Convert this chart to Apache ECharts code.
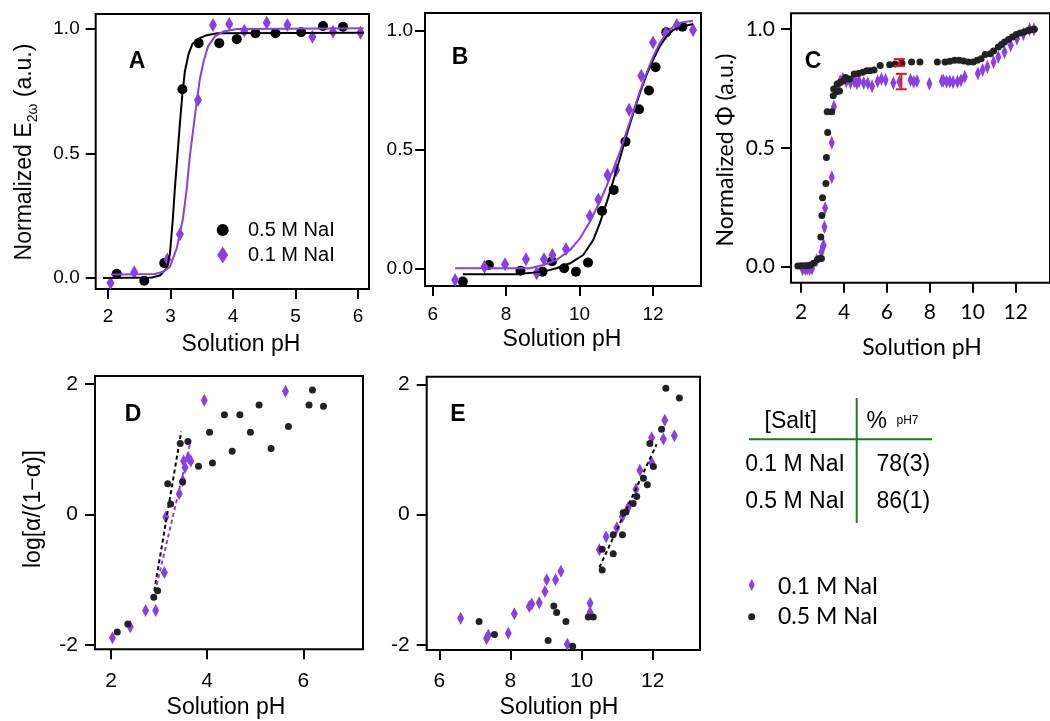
<!DOCTYPE html>
<html>
<head>
<meta charset="utf-8">
<script src="https://cdn.jsdelivr.net/npm/echarts@6/dist/echarts.min.js"></script>
<style>
  html, body { margin: 0; padding: 0; background: #fff; }
  #chart { width: 1050px; height: 721px; }
</style>
</head>
<body>
<div id="chart"></div>
<script>
// ---- Panel A: E(2w) vs pH, acid side ----
const a05 = [[2.14,0.017],[2.58,-0.011],[2.90,0.06],[3.19,0.758],[3.45,0.943],[3.78,0.943],[4.06,0.959],[4.36,0.983],[4.68,0.983],[5.09,0.987],[5.44,1.012],[5.76,1.009]];
const a01 = [[2.04,-0.02],[2.42,0.023],[2.95,0.074],[3.15,0.176],[3.44,0.715],[3.68,1.016],[3.94,1.02],[4.18,0.993],[4.54,1.025],[4.87,1.016],[5.27,0.969],[5.60,0.989],[6.04,0.985]];
const fitA05 = [[1.92,0.0],[2.70,0.002],[2.83,0.01],[2.94,0.04],[2.99,0.095],[3.035,0.23],[3.07,0.36],[3.11,0.49],[3.15,0.62],[3.19,0.74],[3.23,0.83],[3.29,0.90],[3.35,0.94],[3.44,0.96],[3.58,0.975],[3.75,0.983],[6.09,0.985]];
const fitA01 = [[2.05,0.014],[2.75,0.016],[2.88,0.025],[2.99,0.045],[3.10,0.12],[3.20,0.24],[3.26,0.36],[3.31,0.49],[3.37,0.61],[3.42,0.71],[3.47,0.80],[3.53,0.87],[3.60,0.93],[3.71,0.97],[3.85,0.99],[4.06,1.0],[6.09,1.003]];

// ---- Panel B: E(2w) vs pH, base side ----
const b05 = [[6.82,-0.056],[7.53,0.014],[8.39,-0.01],[8.99,-0.014],[9.25,0.03],[9.58,0.0],[9.90,-0.014],[10.23,0.024],[10.61,0.241],[10.93,0.33],[11.25,0.533],[11.62,0.669],[11.89,0.748],[12.07,0.846],[12.36,0.993],[12.80,1.017]];
const b01 = [[6.61,-0.049],[7.41,0.007],[7.97,0.017],[8.54,0.038],[8.83,-0.021],[9.03,0.038],[9.26,0.056],[9.63,0.08],[10.28,0.22],[10.51,0.29],[10.76,0.393],[11.0,0.414],[11.35,0.667],[11.68,0.81],[12.0,0.95],[12.35,0.989],[12.65,1.024],[13.09,1.003]];
const fitB05 = [[6.82,-0.025],[8.28,-0.025],[9.01,-0.014],[9.37,0.0],[9.74,0.021],[10.10,0.056],[10.37,0.119],[10.55,0.189],[10.73,0.273],[10.91,0.364],[11.10,0.463],[11.28,0.561],[11.46,0.652],[11.64,0.736],[11.82,0.813],[12.00,0.876],[12.18,0.933],[12.36,0.975],[12.55,1.003],[12.77,1.017],[13.09,1.028]];
const fitB01 = [[6.61,0.0],[8.65,0.0],[9.01,0.014],[9.37,0.035],[9.74,0.077],[10.01,0.126],[10.28,0.196],[10.55,0.280],[10.73,0.344],[10.91,0.414],[11.10,0.491],[11.28,0.575],[11.46,0.659],[11.64,0.743],[11.82,0.820],[12.00,0.890],[12.18,0.947],[12.36,0.989],[12.55,1.017],[12.77,1.034],[13.09,1.042]];

// ---- Panel C: normalized phase vs pH ----
const c05 = [[1.85,0.003],[2.0,0.004],[2.15,0.004],[2.29,0.004],[2.44,0.007],[2.58,0.014],[2.77,0.03],[2.87,0.035],[2.95,0.035],[2.92,0.125],[2.97,0.216],[3.0,0.29],[3.16,0.35],[3.18,0.46],[3.24,0.565],[3.22,0.652],[3.43,0.652],[3.50,0.72],[3.52,0.748],[3.65,0.737],[3.68,0.769],[3.79,0.74],[3.82,0.776],[3.97,0.783],[4.08,0.797],[4.26,0.79],[4.48,0.811],[4.67,0.814],[4.87,0.819],[5.06,0.825],[5.21,0.825],[5.40,0.828],[5.69,0.847],[6.13,0.85],[6.38,0.854],[6.70,0.857],[7.15,0.862],[7.54,0.862],[8.35,0.862],[8.71,0.862],[8.93,0.865],[9.15,0.869],[9.37,0.869],[9.58,0.866],[9.80,0.862],[10.02,0.862],[10.21,0.869],[10.39,0.876],[10.58,0.893],[10.82,0.897],[10.97,0.908],[11.19,0.925],[11.34,0.936],[11.48,0.946],[11.67,0.957],[11.85,0.967],[12.03,0.978],[12.21,0.984],[12.40,0.988],[12.57,0.995],[12.72,0.998],[12.87,1.0]];
const c01 = [[2.07,-0.011],[2.20,-0.01],[2.29,-0.008],[2.40,-0.01],[2.51,-0.008],[2.73,0.027],[2.95,0.062],[3.02,0.084],[3.05,0.09],[3.09,0.167],[3.12,0.247],[3.43,0.377],[3.43,0.522],[3.53,0.674],[3.68,0.758],[3.82,0.781],[3.95,0.79],[4.11,0.781],[4.30,0.776],[4.48,0.781],[4.60,0.772],[4.70,0.781],[4.92,0.774],[5.11,0.772],[5.31,0.76],[5.57,0.781],[5.75,0.79],[5.94,0.786],[6.30,0.774],[6.58,0.779],[7.10,0.786],[7.25,0.779],[7.40,0.782],[7.98,0.77],[8.56,0.782],[8.63,0.784],[8.78,0.78],[8.93,0.78],[9.08,0.778],[9.29,0.779],[9.45,0.785],[9.63,0.8],[10.24,0.814],[10.46,0.828],[10.68,0.842],[10.97,0.862],[11.19,0.883],[11.48,0.904],[11.77,0.932],[12.06,0.96],[12.36,0.98],[12.65,1.0],[12.85,1.0]];
// error bars at pH 7: [pH, low, high]
const errC = [[6.58,0.845,0.874],[6.67,0.747,0.812]];

// ---- Panel D: log[a/(1-a)] vs pH, acid side ----
const d05 = [[2.13,-1.80],[2.35,-1.68],[2.89,-1.27],[2.97,-1.17],[3.18,0.47],[3.24,0.16],[3.44,1.09],[3.49,0.50],[3.60,1.12],[3.82,0.74],[4.05,1.26],[4.11,0.79],[4.36,1.53],[4.52,0.97],[4.68,1.53],[4.90,1.26],[5.08,1.68],[5.33,1.01],[5.69,1.35],[6.12,1.68],[6.19,1.91],[6.42,1.66]];
const d01 = [[2.03,-1.89],[2.40,-1.72],[2.72,-1.47],[2.93,-1.47],[3.11,-0.89],[3.14,-0.04],[3.42,0.32],[3.49,0.52],[3.51,0.82],[3.54,0.72],[3.61,0.87],[3.66,0.82],[3.94,1.75],[5.63,1.89]];
const lineD05 = [[2.90,-1.17],[3.46,1.27]];
const lineD01 = [[2.95,-1.08],[3.65,1.10]];

// ---- Panel E: log[a/(1-a)] vs pH, base side ----
const e05 = [[7.12,-1.64],[7.55,-1.84],[9.06,-1.93],[9.22,-1.40],[9.30,-1.50],[9.56,-1.64],[9.75,-2.02],[10.19,-1.57],[10.33,-1.57],[10.58,-0.85],[10.58,-0.53],[10.89,-0.60],[10.89,-0.31],[11.15,-0.31],[11.17,0.03],[11.25,0.04],[11.45,0.17],[11.55,0.28],[11.74,0.56],[11.85,0.46],[11.92,1.09],[12.02,0.74],[12.25,1.31],[12.37,1.94],[12.75,1.79]];
const e01 = [[6.60,-1.59],[7.33,-1.90],[7.38,-1.85],[7.94,-1.82],[8.11,-1.52],[8.53,-1.41],[8.60,-1.37],[8.81,-1.35],[8.97,-1.18],[9.02,-1.00],[9.27,-1.00],[9.42,-0.87],[9.60,-1.99],[10.24,-1.36],[10.24,-1.50],[10.50,-0.54],[10.69,-0.34],[10.99,-0.20],[11.15,-0.03],[11.31,0.11],[11.53,0.39],[11.64,0.68],[11.97,1.18],[11.97,0.80],[12.30,1.16],[12.34,1.45],[12.61,1.21]];
const lineE05 = [[10.50,-0.81],[12.11,1.08]];

// ---- tick values ----
const xTicksA = [2,3,4,5,6],        yTicksA = [0,0.5,1];
const xTicksB = [6,8,10,12],        yTicksB = [0,0.5,1];
const xTicksC = [2,4,6,8,10,12],    yTicksC = [0,0.5,1];
const xTicksD = [2,4,6],            yTicksD = [-2,0,2];
const xTicksE = [6,8,10,12],        yTicksE = [-2,0,2];

// ---- table ----
const tableHead = ['[Salt]', '%'];
const tableRows = [['0.1 M NaI','78(3)'],['0.5 M NaI','86(1)']];
const seriesNames = ['0.5 M NaI','0.1 M NaI'];

const SANS = "'Liberation Sans', Arial, Helvetica, sans-serif";
const ROUND = "Lato, 'Open Sans', 'DejaVu Sans', sans-serif";
const PURPLE = '#8a3fe4';
const DARK = '#222222';
const RED = '#e3131b';
const GREEN = '#1f7a1f';

const gridBoxes = [
  {left:95.7, top:14,   width:273.3, height:275},
  {left:425,  top:13,   width:276,   height:273},
  {left:791,  top:13.3, width:275.5, height:269.4},
  {left:95,   top:376,  width:268,   height:273.3},
  {left:426.7,top:376.7,width:273.3, height:273.3}
];

function xAxisFor(idx, min, max, ticks, font, size, margin) {
  return {
    type:'value', gridIndex:idx, min, max,
    axisLine:{show:false, onZero:false},
    axisTick:{show:true, customValues:ticks, length:10, lineStyle:{color:'#000', width:2}},
    axisLabel:{show:true, customValues:ticks, margin, fontFamily:font, fontSize:size, color:'#000',
               formatter:v => String(v)},
    splitLine:{show:false}
  };
}
function yAxisFor(idx, min, max, ticks, font, size, margin, digits) {
  return {
    type:'value', gridIndex:idx, min, max,
    axisLine:{show:false, onZero:false},
    axisTick:{show:true, customValues:ticks, length:10, lineStyle:{color:'#000', width:2}},
    axisLabel:{show:true, customValues:ticks, margin, fontFamily:font, fontSize:size, color:'#000',
               formatter:v => digits ? Number(v).toFixed(digits) : String(v)},
    splitLine:{show:false}
  };
}

function scatter(idx, name, data, symbol, size, color, z) {
  return {type:'scatter', name, xAxisIndex:idx, yAxisIndex:idx, data,
          symbol, symbolSize:size, itemStyle:{color, opacity:1}, z:z||2};
}
function fitLine(idx, name, data, color, dashed) {
  return {type:'line', name, xAxisIndex:idx, yAxisIndex:idx, data,
          symbol:'none', smooth:false,
          lineStyle:{color, width:2, type: dashed ? [4,3] : 'solid', join:'round'}, z:3};
}

function txt(x, y, text, font, size, opts) {
  opts = opts || {};
  return {type:'text', x, y, rotation: opts.rot || 0, z:100,
    style:{text, fontFamily:font, fontSize:size, fontWeight:opts.weight || 'normal',
           fill:opts.color || '#000', align:opts.align || 'center', verticalAlign:'middle',
           textAlign:opts.align || 'center', textVerticalAlign:'middle',
           lineHeight:opts.lineHeight, rich:opts.rich}};
}
function diamond(cx, cy, w, h, color) {
  return {type:'polygon', z:100, shape:{points:[[cx,cy-h/2],[cx+w/2,cy],[cx,cy+h/2],[cx-w/2,cy]]}, style:{fill:color}};
}
function dot(cx, cy, r, color) {
  return {type:'circle', z:100, shape:{cx, cy, r}, style:{fill:color}};
}
function seg(x1, y1, x2, y2, color, w) {
  return {type:'line', z:100, shape:{x1,y1,x2,y2}, style:{stroke:color, lineWidth:w}};
}

const option = {
  animation:false,
  backgroundColor:'#fff',
  grid: gridBoxes.map(g => Object.assign({}, g, {show:true, borderColor:'#000', borderWidth:2, backgroundColor:'transparent'})),
  xAxis:[
    xAxisFor(0, 1.803, 6.176, xTicksA, SANS, 19, 18),
    xAxisFor(1, 5.79, 13.307, xTicksB, SANS, 19, 19),
    xAxisFor(2, 1.531, 13.6, xTicksC, ROUND, 21, 19),
    xAxisFor(3, 1.667, 7.242, xTicksD, SANS, 21, 21),
    xAxisFor(4, 5.646, 13.33, xTicksE, SANS, 21, 21)
  ],
  yAxis:[
    yAxisFor(0, -0.044, 1.060, yTicksA, SANS, 19, 16, 1),
    yAxisFor(1, -0.0745, 1.0745, yTicksB, SANS, 19, 12, 1),
    yAxisFor(2, -0.0674, 1.067, yTicksC, ROUND, 21, 16, 1),
    yAxisFor(3, -2.066, 2.123, yTicksD, SANS, 21, 17, 0),
    yAxisFor(4, -2.077, 2.117, yTicksE, SANS, 21, 17, 0)
  ],
  series:[
    scatter(0, seriesNames[0], a05, 'circle', 10, '#000'),
    scatter(0, seriesNames[1], a01, 'diamond', [8,14], PURPLE),
    fitLine(0, seriesNames[0], fitA05, '#000'),
    fitLine(0, seriesNames[1], fitA01, PURPLE),

    scatter(1, seriesNames[0], b05, 'circle', 10, '#000'),
    scatter(1, seriesNames[1], b01, 'diamond', [8,14], PURPLE),
    fitLine(1, seriesNames[0], fitB05, '#000'),
    fitLine(1, seriesNames[1], fitB01, PURPLE),

    scatter(2, seriesNames[1], c01, 'diamond', [6,14], PURPLE),
    scatter(2, seriesNames[0], c05, 'circle', 7, DARK, 3),
    {
      type:'custom', name:'pH 7', xAxisIndex:2, yAxisIndex:2, data:errC, z:10,
      renderItem:(params, api) => {
        const x = api.value(0), lo = api.value(1), hi = api.value(2);
        const top = api.coord([x, hi]), bot = api.coord([x, lo]);
        const hw = 5.5;
        const st = {stroke:RED, lineWidth:2};
        return {type:'group', children:[
          {type:'line', shape:{x1:top[0], y1:top[1], x2:bot[0], y2:bot[1]}, style:st},
          {type:'line', shape:{x1:top[0]-hw, y1:top[1], x2:top[0]+hw, y2:top[1]}, style:st},
          {type:'line', shape:{x1:bot[0]-hw, y1:bot[1], x2:bot[0]+hw, y2:bot[1]}, style:st}
        ]};
      }
    },

    scatter(3, seriesNames[1], d01, 'diamond', [7,13], PURPLE),
    scatter(3, seriesNames[0], d05, 'circle', 7, DARK, 3),
    fitLine(3, seriesNames[0], lineD05, '#000', true),
    fitLine(3, seriesNames[1], lineD01, PURPLE, true),

    scatter(4, seriesNames[1], e01, 'diamond', [7,13], PURPLE),
    scatter(4, seriesNames[0], e05, 'circle', 7, DARK, 3),
    fitLine(4, seriesNames[0], lineE05, '#000', true)
  ],
  graphic:[
    // panel letters
    txt(137, 62, 'A', SANS, 23, {weight:'bold'}),
    txt(460, 58, 'B', SANS, 23, {weight:'bold'}),
    txt(813, 62, 'C', SANS, 23, {weight:'bold'}),
    txt(133, 415, 'D', SANS, 23, {weight:'bold'}),
    txt(458, 415, 'E', SANS, 23, {weight:'bold'}),
    // axis titles
    txt(241, 345, 'Solution pH', SANS, 23),
    txt(562, 340, 'Solution pH', SANS, 23),
    txt(922, 348, 'Solution pH', ROUND, 23),
    txt(226, 708, 'Solution pH', SANS, 23),
    txt(559, 708, 'Solution pH', SANS, 23),
    txt(25, 152, 'Normalized E{s|2ω} (a.u.)', SANS, 23, {rot:Math.PI/2, lineHeight:30,
        rich:{s:{fontFamily:SANS, fontSize:14, lineHeight:14, verticalAlign:'bottom', fill:'#000'}}}),
    txt(726, 150, 'Normalized Φ (a.u.)', ROUND, 23, {rot:Math.PI/2}),
    txt(34, 509, 'log[α/(1−α)]', SANS, 23, {rot:Math.PI/2}),
    // legend in A
    dot(222.7, 230, 6, '#000'),
    txt(248, 230, seriesNames[0], SANS, 20, {align:'left'}),
    diamond(222.7, 255, 11, 17, PURPLE),
    txt(248, 255, seriesNames[1], SANS, 20, {align:'left'}),
    // table
    seg(749, 439.3, 932, 439.3, GREEN, 2),
    seg(856.7, 398, 856.7, 523, GREEN, 2),
    txt(790.7, 421.7, tableHead[0], SANS, 23),
    txt(876.7, 421.5, tableHead[1], SANS, 23),
    txt(907.5, 420.5, 'pH7', SANS, 12),
    txt(795, 464.3, tableRows[0][0], SANS, 23),
    txt(903.3, 464.3, tableRows[0][1], SANS, 23),
    txt(795, 501.7, tableRows[1][0], SANS, 23),
    txt(903.3, 501.7, tableRows[1][1], SANS, 23),
    // legend, lower right
    diamond(751.7, 585, 6, 12, PURPLE),
    txt(778, 586.7, seriesNames[1], ROUND, 23, {align:'left'}),
    dot(751.7, 616.7, 3.5, DARK),
    txt(778, 616.7, seriesNames[0], ROUND, 23, {align:'left'})
  ]
};

const chart = echarts.init(document.getElementById('chart'), null, {renderer:'canvas'});
chart.setOption(option);
</script>
</body>
</html>
